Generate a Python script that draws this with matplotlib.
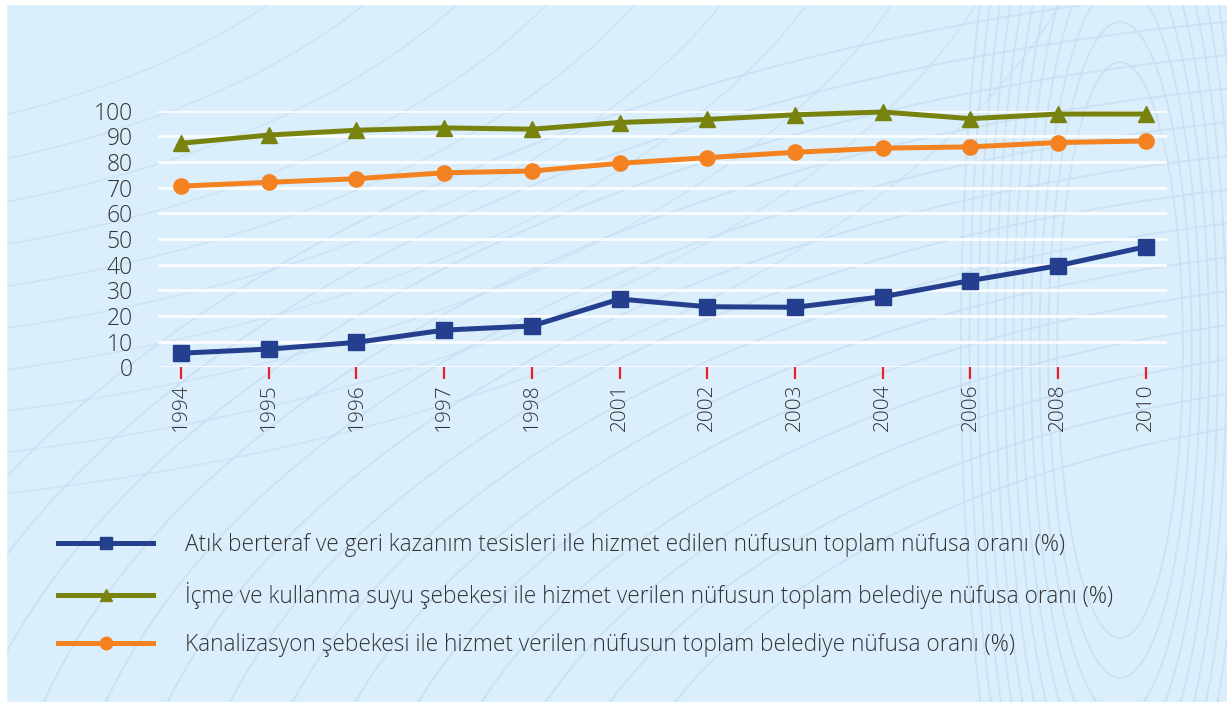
import numpy as np
import matplotlib
matplotlib.use("Agg")
import matplotlib.pyplot as plt
from matplotlib.lines import Line2D
from matplotlib.patches import Rectangle

plt.rcParams['font.family'] = ['Open Sans', 'DejaVu Sans']
plt.rcParams['font.weight'] = 300

years = ['1994', '1995', '1996', '1997', '1998', '2001', '2002', '2003', '2004', '2006', '2008', '2010']
atik = [5.5, 7.1, 9.7, 14.5, 16.1, 26.6, 23.6, 23.4, 27.5, 33.8, 39.6, 47.0]
icme = [87.3, 90.5, 92.4, 93.3, 92.8, 95.4, 96.6, 98.4, 99.5, 96.9, 98.7, 98.7]
kanal = [70.6, 72.1, 73.5, 75.8, 76.5, 79.5, 81.7, 83.8, 85.4, 85.9, 87.6, 88.2]
labels = [
    'Atık berteraf ve geri kazanım tesisleri ile hizmet edilen nüfusun toplam nüfusa oranı (%)',
    'İçme ve kullanma suyu şebekesi ile hizmet verilen nüfusun toplam belediye nüfusa oranı (%)',
    'Kanalizasyon şebekesi ile hizmet verilen nüfusun toplam belediye nüfusa oranı (%)',
]
yticks = list(range(0, 101, 10))

BLUE = '#253f8f'
GREEN = '#78830f'
ORANGE = '#f58220'
BG = '#dbeefb'
TXT = '#333333'

W, H = 1227, 702
fig = plt.figure(figsize=(W / 100, H / 100), dpi=100, facecolor=BG)

# decorative background arcs
bg = fig.add_axes([0, 0, 1, 1], zorder=0)
bg.set_xlim(0, W); bg.set_ylim(H, 0); bg.axis('off')
t = np.linspace(0, 2 * np.pi, 400)
LC = '#c8e0f3'
for k in range(14):
    r = 900 + 60 * k
    bg.plot(1500 + r * np.cos(t), 900 + 0.55 * r * np.sin(t), color=LC, lw=1.4, alpha=0.8)
for k in range(10):
    r = 700 + 80 * k
    bg.plot(-300 + r * np.cos(t), -200 + 0.5 * r * np.sin(t), color=LC, lw=1.2, alpha=0.7)
for k in range(12):
    r = 180 + 25 * k
    bg.plot(1120 + 0.35 * r * np.cos(t), 350 + 1.6 * r * np.sin(t), color=LC, lw=1.4, alpha=0.8)
bg.add_patch(Rectangle((0, 0), W, 4, color='white', zorder=3))
bg.add_patch(Rectangle((0, 0), 6, H, color='white', zorder=3))

left = 158 / W
right = 1167 / W
bottom = 1 - 367.3 / H
top = 1 - 110.7 / H
ax = fig.add_axes([left, bottom, right - left, top - bottom], zorder=2)
ax.patch.set_alpha(0)
x = np.arange(len(years))
ax.set_xlim(-0.262, 11.24)
ax.set_ylim(0, 100)

for v in yticks:
    ax.axhline(v, color='white', lw=2.2, alpha=0.85, zorder=1)

ax.plot(x, atik, color=BLUE, lw=3.6, marker='s', ms=12, clip_on=False, zorder=5)
ax.plot(x, icme, color=GREEN, lw=3.6, marker='^', ms=11, clip_on=False, zorder=5)
ax.plot(x, kanal, color=ORANGE, lw=3.6, marker='o', ms=11, clip_on=False, zorder=5)

for s in ax.spines.values():
    s.set_visible(False)
ax.set_yticks(yticks)
ax.set_yticklabels([str(v) for v in yticks])
ax.tick_params(axis='y', length=0, pad=18, labelsize=16.5, labelcolor=TXT)
ax.set_xticks(x)
ax.set_xticklabels(years, rotation=90)
ax.tick_params(axis='x', direction='out', length=8.5, width=1.6, color='#e8202a',
               pad=3, labelsize=15, labelcolor=TXT)

handles = [
    Line2D([], [], color=BLUE, lw=3.6, marker='s', ms=9),
    Line2D([], [], color=GREEN, lw=3.6, marker='^', ms=9),
    Line2D([], [], color=ORANGE, lw=3.6, marker='o', ms=9),
]
leg = fig.legend(handles, labels, loc='upper left', bbox_to_anchor=(58 / W, 1 - 533 / H),
                 frameon=False, fontsize=16.3, handlelength=4.2, handletextpad=1.4,
                 labelspacing=1.08, borderpad=0, borderaxespad=0)
for txt in leg.get_texts():
    txt.set_color(TXT)

fig.savefig('out.png', dpi=100, facecolor=BG)
